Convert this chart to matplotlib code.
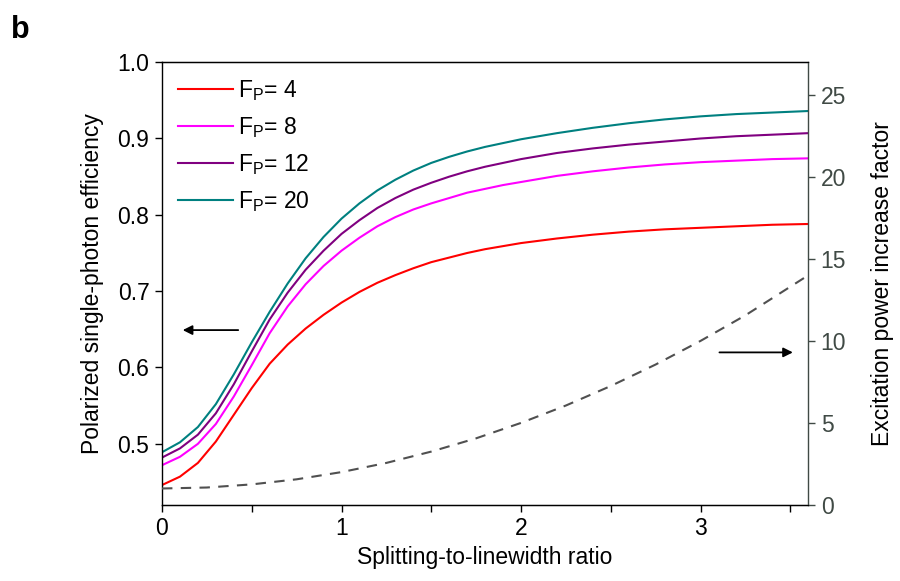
import matplotlib
matplotlib.use('Agg')
import matplotlib.pyplot as plt
from matplotlib.ticker import MultipleLocator

plt.rcParams['font.family'] = ['Liberation Sans', 'DejaVu Sans']
plt.rcParams['mathtext.fontset'] = 'custom'
plt.rcParams['mathtext.rm'] = 'Liberation Sans'

# splitting-to-linewidth ratio
ratio = [0.0, 0.1, 0.2, 0.3, 0.4, 0.5, 0.6, 0.7, 0.8, 0.9, 1.0, 1.1, 1.2,
         1.3, 1.4, 1.5, 1.6, 1.7, 1.8, 1.9, 2.0, 2.2, 2.4, 2.6, 2.8, 3.0,
         3.2, 3.4, 3.6]

# polarized single-photon efficiency for each Purcell factor
eff_fp4 = [0.446, 0.457, 0.475, 0.503, 0.538, 0.573, 0.605, 0.630, 0.651,
           0.669, 0.685, 0.699, 0.711, 0.721, 0.730, 0.738, 0.744, 0.750,
           0.755, 0.759, 0.763, 0.769, 0.774, 0.778, 0.781, 0.783, 0.785,
           0.787, 0.788]
eff_fp8 = [0.472, 0.483, 0.500, 0.526, 0.562, 0.603, 0.645, 0.680, 0.709,
           0.733, 0.753, 0.770, 0.785, 0.797, 0.807, 0.815, 0.822, 0.829,
           0.834, 0.839, 0.843, 0.851, 0.857, 0.862, 0.866, 0.869, 0.871,
           0.873, 0.874]
eff_fp12 = [0.482, 0.494, 0.512, 0.540, 0.578, 0.621, 0.663, 0.698, 0.728,
            0.753, 0.775, 0.793, 0.809, 0.822, 0.833, 0.842, 0.850, 0.857,
            0.863, 0.868, 0.873, 0.881, 0.887, 0.892, 0.896, 0.900, 0.903,
            0.905, 0.907]
eff_fp20 = [0.489, 0.502, 0.522, 0.552, 0.591, 0.633, 0.673, 0.710, 0.743,
            0.771, 0.795, 0.815, 0.832, 0.846, 0.858, 0.868, 0.876, 0.883,
            0.889, 0.894, 0.899, 0.907, 0.914, 0.920, 0.925, 0.929, 0.932,
            0.934, 0.936]

# excitation power increase factor (right axis)
power_ratio = [0.0, 0.25, 0.5, 0.75, 1.0, 1.25, 1.5, 1.75, 2.0, 2.25, 2.5,
               2.75, 3.0, 3.25, 3.6]
power_factor = [1.0, 1.06, 1.25, 1.56, 2.0, 2.56, 3.25, 4.06, 5.0, 6.06,
                7.25, 8.56, 10.0, 11.56, 14.0]

series = [(eff_fp4, '#ff0000', '4'), (eff_fp8, '#ff00ff', '8'),
          (eff_fp12, '#800080', '12'), (eff_fp20, '#008080', '20')]

grey = '#404a45'
fs = 16.5

fig = plt.figure(figsize=(9, 5.81), dpi=100)
ax = fig.add_axes([0.18, 0.131, 0.718, 0.762])

for vals, col, fp in series:
    ax.plot(ratio, vals, color=col, lw=1.5,
            label=r'F$_\mathregular{P}$= ' + fp)

ax.set_xlim(0, 3.6)
ax.set_ylim(0.42, 1.0)
ax.xaxis.set_major_locator(MultipleLocator(1))
ax.xaxis.set_minor_locator(MultipleLocator(0.5))
ax.yaxis.set_major_locator(MultipleLocator(0.1))
ax.tick_params(axis='both', which='major', direction='out', length=5,
               width=1, labelsize=fs, top=False, right=False, pad=4)
ax.tick_params(axis='x', which='minor', direction='out', length=5, width=1)
ax.set_xlabel('Splitting-to-linewidth ratio', fontsize=fs, labelpad=4)
ax.set_ylabel('Polarized single-photon efficiency', fontsize=fs, labelpad=10)
ax.spines['right'].set_visible(False)

ax2 = ax.twinx()
ax2.plot(power_ratio, power_factor, color='#505050', lw=1.5, ls=(0, (5, 4)))
ax2.set_ylim(0, 27)
ax2.yaxis.set_major_locator(MultipleLocator(5))
ax2.tick_params(axis='y', direction='out', length=5, width=1, labelsize=fs,
                colors=grey, pad=4)
ax2.spines['right'].set_color(grey)
ax2.spines['left'].set_visible(False)
ax2.set_ylabel('Excitation power increase factor', fontsize=fs, labelpad=18)

for sp in ['left', 'bottom', 'top']:
    ax.spines[sp].set_linewidth(1)
ax2.spines['right'].set_linewidth(1)

leg = ax.legend(loc='upper left', frameon=False, fontsize=fs,
                handlelength=2.4, handletextpad=0.2, labelspacing=0.52,
                borderaxespad=0.3, bbox_to_anchor=(0.0, 1.0))

ax.annotate('', xy=(0.1, 0.649), xytext=(0.44, 0.649),
            arrowprops=dict(arrowstyle='-|>', color='black', lw=1.3,
                            mutation_scale=14))
ax2.annotate('', xy=(3.53, 9.3), xytext=(3.09, 9.3),
             arrowprops=dict(arrowstyle='-|>', color='black', lw=1.3,
                             mutation_scale=14))

fig.text(0.012, 0.935, 'b', fontsize=22, fontweight='bold')

fig.savefig('out.png', dpi=100)
